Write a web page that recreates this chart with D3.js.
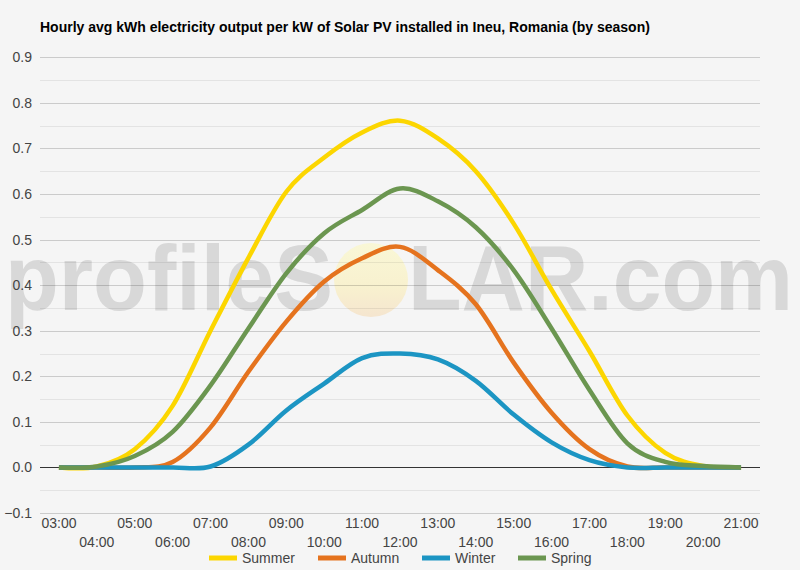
<!DOCTYPE html>
<html>
<head>
<meta charset="utf-8">
<script src="https://cdn.jsdelivr.net/npm/d3@7"></script>
<style>
  body { margin: 0; background: #f5f5f5; }
  svg { display: block; font-family: "Liberation Sans", Arial, sans-serif; }
</style>
</head>
<body>
<svg id="chart" width="800" height="570"></svg>
<script>
// hours of the day shown on the x axis
const hours = ['03:00', '04:00', '05:00', '06:00', '07:00', '08:00', '09:00', '10:00', '11:00', '12:00',
  '13:00', '14:00', '15:00', '16:00', '17:00', '18:00', '19:00', '20:00', '21:00'];

// kWh per kW
const summer = [0, 0.002, 0.04, 0.135, 0.30, 0.46, 0.605, 0.68, 0.735, 0.761, 0.722, 0.65, 0.535, 0.39, 0.255, 0.114, 0.032, 0.003, 0];
const autumn = [0, 0, 0, 0.012, 0.088, 0.21, 0.32, 0.408, 0.459, 0.484, 0.433, 0.358, 0.23, 0.12, 0.04, 0.002, 0, 0, 0];
const winter = [0, 0, 0, 0, 0.002, 0.05, 0.125, 0.184, 0.24, 0.25, 0.237, 0.19, 0.116, 0.055, 0.016, 0, 0, 0, 0];
const spring = [0, 0.002, 0.025, 0.078, 0.18, 0.305, 0.426, 0.514, 0.565, 0.612, 0.584, 0.527, 0.433, 0.305, 0.17, 0.053, 0.012, 0.003, 0];

const seriesNames = ['Summer', 'Autumn', 'Winter', 'Spring'];
const seriesValues = [summer, autumn, winter, spring];
const seriesColors = ['#fcd600', '#e5731e', '#1c95c3', '#6b9650'];

const yTicks = [-0.1, 0, 0.1, 0.2, 0.3, 0.4, 0.5, 0.6, 0.7, 0.8, 0.9];
const yMinor = [-0.05, 0.05, 0.15, 0.25, 0.35, 0.45, 0.55, 0.65, 0.75, 0.85];

const title = 'Hourly avg kWh electricity output per kW of Solar PV installed in Ineu, Romania (by season)';

const plotLeft = 40, plotRight = 760, plotTop = 57.3, plotBottom = 513;

const svg = d3.select('#chart');

svg.append('rect')
  .attr('width', 800).attr('height', 570)
  .attr('fill', '#f5f5f5');

const x = d3.scalePoint().domain(hours).range([plotLeft, plotRight]).padding(0.5);
const y = d3.scaleLinear().domain([-0.1, 0.9]).range([plotBottom, plotTop]);

// watermark (under the grid, so the lines show through)
const wm = svg.append('g');
const sun = svg.append('defs').append('linearGradient')
  .attr('id', 'sun').attr('x1', 0).attr('y1', 0).attr('x2', 0).attr('y2', 1);
sun.append('stop').attr('offset', '0%').attr('stop-color', '#f9f7d6');
sun.append('stop').attr('offset', '60%').attr('stop-color', '#f8f1cf');
sun.append('stop').attr('offset', '100%').attr('stop-color', '#f5e5cf');
wm.append('circle')
  .attr('cx', 371).attr('cy', 280).attr('r', 37)
  .attr('fill', 'url(#sun)');
wm.append('text')
  .attr('x', 5).attr('y', 310)
  .attr('font-family', '"Liberation Sans", sans-serif')
  .attr('font-weight', 'bold')
  .attr('font-size', '92px')
  .attr('textLength', 328)
  .attr('lengthAdjust', 'spacingAndGlyphs')
  .attr('fill', '#d8d8d8')
  .text('profileS');
wm.append('text')
  .attr('x', 408).attr('y', 310)
  .attr('font-family', '"Liberation Sans", sans-serif')
  .attr('font-weight', 'bold')
  .attr('font-size', '92px')
  .attr('textLength', 385)
  .attr('lengthAdjust', 'spacingAndGlyphs')
  .attr('fill', '#d8d8d8')
  .text('LAR.com');

// gridlines
svg.append('g')
  .selectAll('line')
  .data(yMinor)
  .enter()
  .append('line')
  .attr('x1', plotLeft).attr('x2', plotRight)
  .attr('y1', d => Math.round(y(d)) + 0.5).attr('y2', d => Math.round(y(d)) + 0.5)
  .attr('stroke', '#000')
  .attr('stroke-opacity', 0.07);

svg.append('g')
  .selectAll('line')
  .data(yTicks.filter(d => d !== 0))
  .enter()
  .append('line')
  .attr('x1', plotLeft).attr('x2', plotRight)
  .attr('y1', d => Math.round(y(d)) + 0.5).attr('y2', d => Math.round(y(d)) + 0.5)
  .attr('stroke', '#000')
  .attr('stroke-opacity', 0.17);

// zero baseline
svg.append('line')
  .attr('x1', plotLeft).attr('x2', plotRight)
  .attr('y1', Math.round(y(0)) + 0.5).attr('y2', Math.round(y(0)) + 0.5)
  .attr('stroke', '#333333');

// y labels
svg.append('g')
  .selectAll('text')
  .data(yTicks)
  .enter()
  .append('text')
  .attr('x', 32)
  .attr('y', d => y(d) + 5)
  .attr('text-anchor', 'end')
  .attr('font-size', '14px')
  .attr('fill', '#444')
  .text(d => d3.format('.1f')(d));

// x labels, staggered in two rows
svg.append('g')
  .selectAll('text')
  .data(hours)
  .enter()
  .append('text')
  .attr('x', d => x(d))
  .attr('y', (d, i) => i % 2 === 0 ? 528 : 547)
  .attr('text-anchor', 'middle')
  .attr('font-size', '14px')
  .attr('fill', '#444')
  .text(d => d);

// lines
const line = d3.line()
  .x((d, i) => x(hours[i]))
  .y(d => y(d))
  .curve(d3.curveCatmullRom.alpha(0));

svg.append('g')
  .selectAll('path')
  .data(seriesValues)
  .enter()
  .append('path')
  .attr('d', d => line(d))
  .attr('fill', 'none')
  .attr('stroke', (d, i) => seriesColors[i])
  .attr('stroke-width', 4.5)
  .attr('stroke-linejoin', 'round');

// title
svg.append('text')
  .attr('x', 40).attr('y', 32)
  .attr('font-size', '14px')
  .attr('font-weight', 'bold')
  .attr('fill', '#000')
  .text(title);

// legend
const legendX = [209, 318, 422, 518];
const legend = svg.append('g')
  .selectAll('g')
  .data(seriesNames)
  .enter()
  .append('g')
  .attr('transform', (d, i) => 'translate(' + legendX[i] + ',558)');

legend.append('line')
  .attr('x1', 0).attr('x2', 28)
  .attr('stroke', (d, i) => seriesColors[i])
  .attr('stroke-width', 5);

legend.append('text')
  .attr('x', 33).attr('y', 5)
  .attr('font-size', '14px')
  .attr('fill', '#444')
  .text(d => d);
</script>
</body>
</html>
